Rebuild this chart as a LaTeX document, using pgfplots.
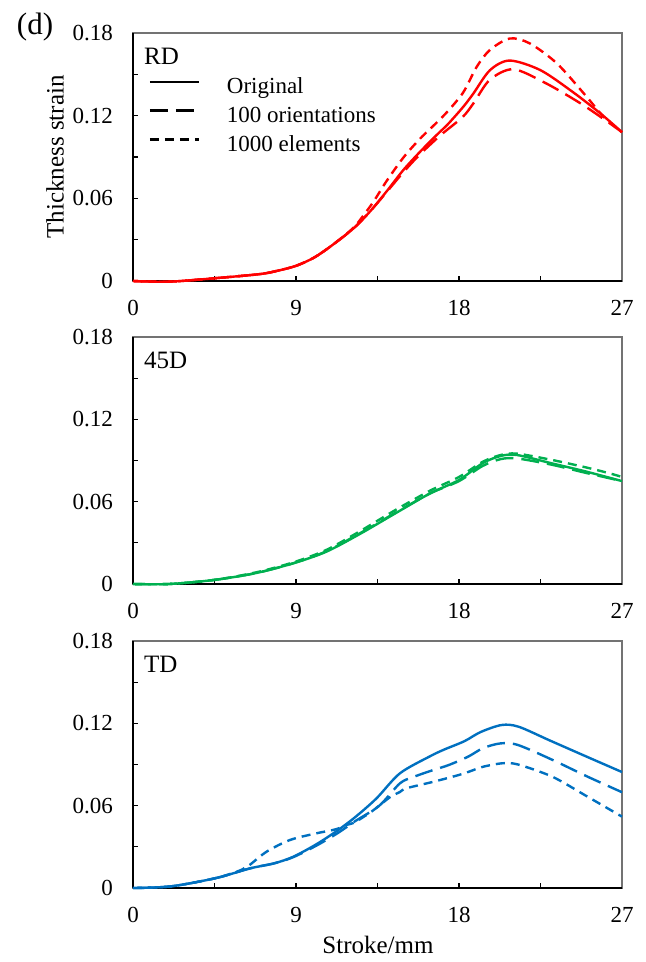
\documentclass[border=0pt]{standalone}
\usepackage{fontspec}
\setmainfont{Liberation Serif}
\usepackage{pgfplots}
\pgfplotsset{compat=1.18}
\definecolor{cred}{RGB}{255,0,0}
\definecolor{cgreen}{RGB}{0,176,80}
\definecolor{cblue}{RGB}{0,112,192}
\pgfplotsset{
  panel/.style={
    scale only axis, width=244.5pt, height=124pt,
    xmin=0, xmax=27, ymin=0, ymax=0.18,
    xtick={0,9,18,27}, xticklabels={0,9,18,27}, minor xtick={4.5,13.5,22.5},
    ytick={0,0.06,0.12,0.18}, yticklabels={0,0.06,0.12,0.18}, minor ytick={0.03,0.09,0.15},
    tick align=inside, xtick pos=bottom, ytick pos=left,
    major tick length=2.5pt, minor tick length=2.5pt,
    tick style={black, line width=0.6pt},
    axis line style={draw=black!55, line width=0.6pt},
    tick label style={font=\fontsize{11.5}{13}\selectfont},
    /pgf/number format/assume math mode=true,
    yticklabel style={xshift=-6.5pt},
    xticklabel style={yshift=-6pt},
    clip=false,
    label style={font=\fontsize{12.5}{14}\selectfont},
  },
  orig/.style={solid, line width=1.2pt, smooth},
  ori/.style={dash pattern=on 9pt off 4pt, line width=1.2pt, smooth},
  elem/.style={dash pattern=on 4.5pt off 3pt, line width=1.2pt, smooth},
}
\newcommand{\blackaxes}{%
  \draw[black, line width=0.7pt] (rel axis cs:0,0) -- (rel axis cs:0,1);
  \draw[black, line width=1pt] (rel axis cs:0,0) -- (rel axis cs:1,0);}
\begin{document}
\begin{tikzpicture}
\path[use as bounding box] (0,0) rectangle (322.5pt,-481pt);
\node[font=\fontsize{15.5}{17}\selectfont, inner sep=0pt] at (17.5pt,-13.75pt) {(d)};

% ---------------- RD ----------------
\begin{axis}[panel, at={(66.5pt,-16.5pt)}, anchor=north west,
  ylabel={Thickness strain},
  ylabel style={at={(axis description cs:-0.1595,0.5)}, anchor=center, rotate=0},
  legend style={at={(axis description cs:0.031,0.822)}, anchor=north west,
    draw=none, fill=none, inner sep=0pt, row sep=3.85pt, column sep=0pt,
    font=\fontsize{11.5}{13}\selectfont,
    nodes={inner sep=0pt, text height=8pt, text depth=2.6pt}},
  legend cell align=left,
  legend image code/.code={\draw[#1] (0pt,3.2pt) -- (24.5pt,3.2pt);},
]
\blackaxes
\addlegendimage{black, solid, line width=1.2pt}
\addlegendentry{\hspace{13.5pt}Original}
\addlegendimage{black, dash pattern=on 9pt off 4pt, line width=1.2pt}
\addlegendentry{\hspace{13.5pt}100 orientations}
\addlegendimage{black, dash pattern=on 4.5pt off 3pt, line width=1.2pt}
\addlegendentry{\hspace{13.5pt}1000 elements}
\addplot[cred, orig, forget plot] coordinates {
(0,0) (2,-0.0005) (4.5,0.002) (7,0.005) (8,0.0075) (9,0.011) (10,0.017) (11,0.026)
(12.16,0.038) (13.09,0.0505) (14.0,0.065) (14.93,0.0806) (15.85,0.0938)
(16.77,0.106) (17.4,0.114) (18.24,0.1265) (18.79,0.136) (19.71,0.153)
(20.8,0.160) (22.5,0.153) (24.3,0.137) (25.8,0.1217) (27,0.108)};
\addplot[cred, ori, forget plot] coordinates {
(0,0) (2,-0.0005) (4.5,0.002) (7,0.005) (8,0.0075) (9,0.011) (10,0.017) (11,0.026)
(12.16,0.038) (13.09,0.0505) (14.0,0.0645) (14.93,0.079) (15.85,0.092)
(17,0.106) (18.2,0.119) (18.8,0.129) (19.7,0.146)
(21,0.1537) (22.8,0.1435) (24.7,0.129) (26.2,0.1156) (27,0.108)};
\addplot[cred, elem, forget plot] coordinates {
(0,0) (2,-0.0005) (4.5,0.002) (7,0.005) (8,0.0075) (9,0.011) (10,0.017) (11,0.026)
(12.16,0.0385) (12.72,0.0475) (13.3,0.058) (14.0,0.0725) (14.93,0.0896)
(15.85,0.1033) (16.77,0.115) (17.4,0.1235) (18.24,0.137) (18.98,0.1555)
(19.71,0.1677) (20.8,0.176) (21.9,0.1725) (23.4,0.158) (24.9,0.136)
(26,0.119) (27,0.108)};
\node[anchor=west, inner sep=0pt, font=\fontsize{12.5}{14}\selectfont] at (rel axis cs:0.022,0.907) {RD};
\end{axis}

% ---------------- 45D ----------------
\begin{axis}[panel, at={(66.5pt,-168.5pt)}, anchor=north west, height=123.5pt]
\blackaxes
\addplot[cgreen, orig] coordinates {
(0,0) (2,0) (4.5,0.003) (6.8,0.008) (8.9,0.0153) (10.7,0.0237) (12.6,0.037)
(14.5,0.0516) (16.4,0.066) (18,0.0758) (19.3,0.088) (20.3,0.0933) (21.2,0.094)
(23.1,0.088) (25,0.082) (27,0.075)};
\addplot[cgreen, ori] coordinates {
(0,0) (2,0) (4.5,0.003) (6.8,0.008) (8.9,0.0153) (10.7,0.024) (12.6,0.0375)
(14.5,0.052) (16.4,0.066) (18,0.075) (19.3,0.086) (20.3,0.091) (21.2,0.0915)
(23.1,0.087) (25,0.081) (27,0.075)};
\addplot[cgreen, elem] coordinates {
(0,0) (2,0) (4.5,0.003) (6.8,0.0085) (8.9,0.016) (10.7,0.025) (12.6,0.039)
(14.5,0.054) (16.4,0.068) (18,0.078) (19.3,0.089) (20.3,0.094) (21.2,0.095)
(23.1,0.0905) (25,0.085) (26.3,0.0807) (27,0.078)};
\node[anchor=west, inner sep=0pt, font=\fontsize{12.5}{14}\selectfont] at (rel axis cs:0.022,0.907) {45D};
\end{axis}

% ---------------- TD ----------------
\begin{axis}[panel, at={(66.5pt,-320.5pt)}, anchor=north west, height=123.5pt,
  xlabel={Stroke/mm},
  xlabel style={at={(axis description cs:0.501,-0.231)}, anchor=center}]
\blackaxes
\addplot[cblue, orig] coordinates {
(0,0) (2.1,0.0012) (4.6,0.0073) (6.46,0.0143) (7.8,0.018) (8.85,0.0228)
(10.14,0.032) (11.3,0.042) (12.3,0.052) (13.45,0.0654) (14.74,0.0836)
(16.4,0.096) (17.2,0.101) (18.3,0.107) (19.2,0.1137) (20.36,0.1188)
(21.3,0.1175) (23,0.1076) (25,0.096) (27,0.0845)};
\addplot[cblue, ori] coordinates {
(0,0) (2.1,0.0012) (4.6,0.0073) (6.46,0.0143) (7.8,0.018) (8.85,0.0225)
(10.14,0.031) (11.3,0.040) (12.3,0.049) (13.6,0.060) (14.74,0.0763)
(15.5,0.081) (16.58,0.086) (17.43,0.0896) (18.5,0.0957) (19.34,0.102)
(20.3,0.1054) (21.26,0.1042) (23.17,0.0933) (25.09,0.0812) (27,0.0698)};
\addplot[cblue, elem] coordinates {
(0,0) (2.1,0.0012) (4.6,0.0073) (6,0.0133) (6.46,0.017) (7.38,0.0265)
(8.67,0.035) (10.14,0.0399) (11.2,0.0428) (11.8,0.046) (12.26,0.048)
(13.2,0.056) (14.17,0.066) (14.74,0.070) (15.1,0.0727) (16.58,0.0774)
(18.0,0.0824) (18.6,0.085) (19.34,0.0884) (20.4,0.0909) (21.26,0.090)
(23.17,0.081) (25.09,0.0666) (27,0.052)};
\node[anchor=west, inner sep=0pt, font=\fontsize{12.5}{14}\selectfont] at (rel axis cs:0.022,0.907) {TD};
\end{axis}
\end{tikzpicture}
\end{document}
